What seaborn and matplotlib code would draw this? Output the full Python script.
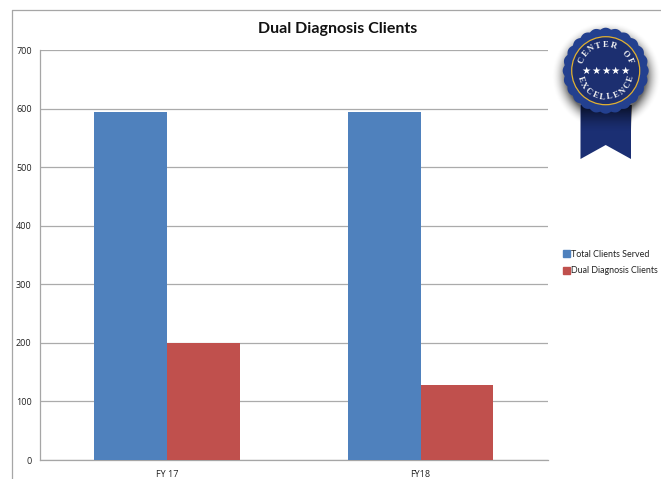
import numpy as np
import pandas as pd
import matplotlib
matplotlib.use("Agg")
import matplotlib.pyplot as plt
from matplotlib.patches import Polygon, Circle, Patch
import seaborn as sns

categories = ["FY 17", "FY18"]
total_clients = [594, 595]
dual_clients = [200, 128]
series_names = ["Total Clients Served", "Dual Diagnosis Clients"]
yticks = [0, 100, 200, 300, 400, 500, 600, 700]
title = "Dual Diagnosis Clients"

BLUE, RED = "#4F81BD", "#C0504D"
W, H = 661, 479
UI = ["Open Sans", "DejaVu Sans"]

sns.set_theme(style="white")
plt.rcParams["font.family"] = ["Lato", "DejaVu Sans"]

df = pd.DataFrame({
    "fy": categories * 2,
    "clients": total_clients + dual_clients,
    "series": [series_names[0]] * 2 + [series_names[1]] * 2,
})

fig = plt.figure(figsize=(W / 100, H / 100), dpi=100, facecolor="white")
ax = fig.add_axes([40 / W, 1 - 460 / H, 507.5 / W, 410 / H])
sns.barplot(data=df, x="fy", y="clients", hue="series", order=categories,
            hue_order=series_names, palette=[BLUE, RED], width=0.573, gap=0,
            saturation=1, legend=False, ax=ax, zorder=3, edgecolor="none", linewidth=0)
ax.set_xlim(-0.5, 1.5)
ax.set_ylim(0, 700)
ax.set_yticks(yticks)
ax.set_xlabel("")
ax.set_ylabel("")
ax.grid(axis="y", color="#ABABAB", lw=0.9, zorder=0)
ax.set_axisbelow(True)
ax.tick_params(axis="both", length=0, labelsize=6.5, labelcolor="#222222")
ax.tick_params(axis="x", pad=7)
ax.tick_params(axis="y", pad=6)
for s in ["top", "right"]:
    ax.spines[s].set_visible(False)
for s in ["left", "bottom"]:
    ax.spines[s].set_color("#A6A6A6")
    ax.spines[s].set_linewidth(0.9)
for lab in ax.get_yticklabels() + ax.get_xticklabels():
    lab.set_fontfamily(UI)

fig.text(338 / W, 1 - 29 / H, title, ha="center", va="center",
         fontsize=11.5, fontweight="bold", color="#111111")

# Legend
ax.legend(handles=[Patch(color=BLUE, label=series_names[0]),
                   Patch(color=RED, label=series_names[1])],
          loc="center left", bbox_to_anchor=(563 / W, 1 - 262.5 / H),
          bbox_transform=fig.transFigure, frameon=False,
          handlelength=0.8, handleheight=0.8, handletextpad=0.12,
          labelspacing=0.85, borderpad=0, borderaxespad=0, labelcolor="#222222",
          prop={"family": ["Lato", "DejaVu Sans"], "size": 6.4})

# Pixel-space overlay: outer frame and badge
ov = fig.add_axes([0, 0, 1, 1], zorder=5)
ov.axis("off")
ov.patch.set_alpha(0)
ov.plot([11.5, 11.5], [H, 9.5], color="#A6A6A6", lw=0.9, clip_on=False)
ov.plot([11.5, W], [9.5, 9.5], color="#A6A6A6", lw=0.9, clip_on=False)

cx, cy = 605.7, 70.7
NAVY, NAVY2 = "#23408F", "#1B2F73"

# soft shadow under seal
n = 180
gx, gy = np.meshgrid(np.linspace(-62, 62, n), np.linspace(-62, 62, n))
r = np.hypot(gx, gy - 5)
alpha = np.clip((55 - r) / 15, 0, 1) ** 2 * 0.6
ov.imshow(np.dstack([np.zeros((n, n, 3)), alpha]), aspect="auto",
          extent=(cx - 62, cx + 62, cy + 62, cy - 62), zorder=1.5, interpolation="bilinear")

# ribbon
ov.add_patch(Polygon([(580.5, 105), (631, 105), (631, 159), (605.7, 145), (580.5, 159)],
                     closed=True, fc=NAVY2, ec="none", zorder=2))
yy = np.linspace(0, 1, 40)[:, None]
ov.imshow(np.dstack([np.zeros((40, 1, 3)), (1 - yy) ** 1.5 * 0.7]), aspect="auto",
          extent=(580.5, 631, 132, 105), zorder=2.1, interpolation="bilinear")

# scalloped seal
t = np.linspace(0, 2 * np.pi, 721)
rad = 41.3 + 1.7 * np.abs(np.cos(12 * t))
ov.add_patch(Polygon(np.c_[cx + rad * np.cos(t), cy + rad * np.sin(t)],
                     closed=True, fc=NAVY, ec="none", zorder=3))
ov.add_patch(Circle((cx, cy), 34, fc="#1C2F70", ec="#E0B032", lw=0.9, zorder=3.1))

ov.set_xlim(0, W)
ov.set_ylim(H, 0)


def arc_text(s, radius, centre_deg, step_deg, top=True):
    n_c = len(s)
    for i, ch in enumerate(s):
        off = (i - (n_c - 1) / 2) * step_deg
        a = np.deg2rad(centre_deg + off)
        x = cx + radius * np.cos(a)
        y = cy - radius * np.sin(a)
        rot = np.rad2deg(a) - 90 if top else np.rad2deg(a) + 90
        ov.text(x, y, ch, ha="center", va="center", rotation=rot,
                rotation_mode="anchor", fontsize=6.2, fontweight="bold", color="#F2F2F2",
                family=["Liberation Serif", "DejaVu Serif"], zorder=4)


arc_text("CENTER OF", 26, 90, -16.5)
arc_text("EXCELLENCE", 26.5, 270, 16, top=False)
for dx in [-19.3, -9.6, 0, 9.6, 19.3]:
    ov.text(cx + dx, cy, "★", ha="center", va="center", fontsize=7.5,
            color="white", family=["DejaVu Sans"], zorder=4)

fig.savefig("out.png", dpi=100, facecolor="white")
